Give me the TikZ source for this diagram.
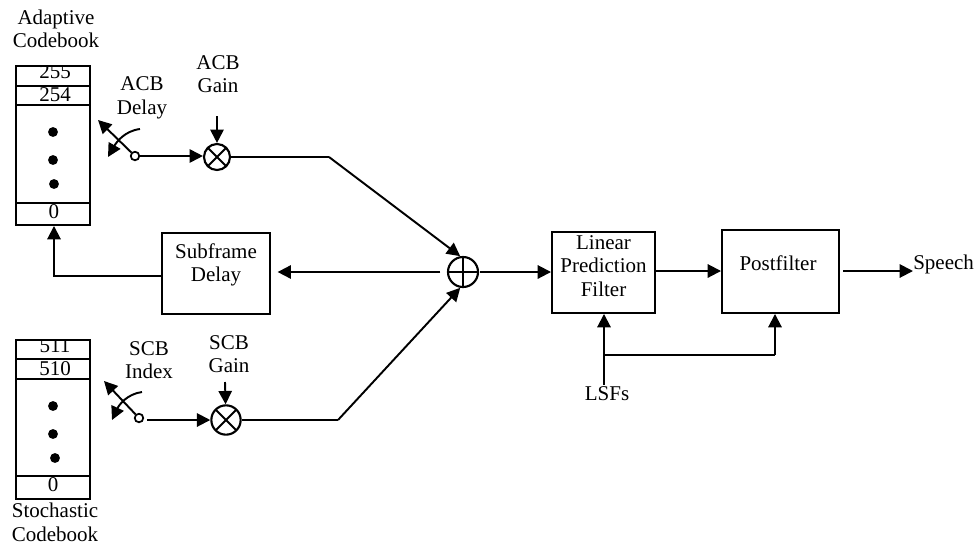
\documentclass[tikz,border=0pt]{standalone}
\usepackage{fontspec}
\setmainfont{Liberation Serif}
\usetikzlibrary{arrows.meta}
\tikzset{
  wire/.style={line width=1.45pt,line join=miter},
  flow/.style={wire,-{Triangle[length=10pt,width=10pt]}},
  boxnode/.style={draw,line width=1.45pt,inner sep=0pt},
  txt/.style={align=center,inner sep=0pt,font=\fontsize{15.75}{17.6}\selectfont},
  num/.style={inner sep=0pt,font=\fontsize{15.75}{17.6}\selectfont},
  dotnode/.style={circle,fill=black,inner sep=0pt,minimum size=7.4pt},
  pivot/.style={circle,draw,fill=white,line width=1.3pt,inner sep=0pt,minimum size=6.4pt},
  mult/.style={circle,draw,line width=1.6pt,inner sep=0pt,path picture={
    \draw[line width=1.45pt] (path picture bounding box.north west)--(path picture bounding box.south east)
      (path picture bounding box.north east)--(path picture bounding box.south west);}},
  adder/.style={circle,draw,line width=1.6pt,inner sep=0pt,minimum size=22.5pt,path picture={
    \draw[line width=1.3pt] (path picture bounding box.north)--(path picture bounding box.south)
      (path picture bounding box.east)--(path picture bounding box.west);}},
}
\begin{document}
\begin{tikzpicture}[x=0.75pt,y=-0.75pt]
\useasboundingbox (0,0) rectangle (976,544);
% adaptive codebook
\begin{scope}
\clip (16,66) rectangle (90,86);
\node[num] (n255) at (55,72) {255};
\end{scope}
\node[boxnode,minimum width=55.5pt,minimum height=119.25pt] (acb) at (53,145.5) {};
\node[num] (n254) at (55,95) {254};
\node[num] (n0a) at (54,212) {0};
\coordinate (a1) at (16,86); \coordinate (a1r) at (90,86);
\coordinate (a2) at (16,105); \coordinate (a2r) at (90,105);
\coordinate (a3) at (16,203); \coordinate (a3r) at (90,203);
\draw[wire] (a1)--(a1r) (a2)--(a2r) (a3)--(a3r);
\node[dotnode] (da1) at (53,132) {};
\node[dotnode] (da2) at (53,160) {};
\node[dotnode] (da3) at (54,184) {};
\node[txt] (acbt) at (56,29) {Adaptive\\Codebook};
% stochastic codebook
\begin{scope}
\clip (16,340) rectangle (90,359);
\node[num] (n511) at (55,346) {511};
\end{scope}
\node[boxnode,minimum width=55.5pt,minimum height=119.25pt] (scb) at (53,419.5) {};
\node[num] (n510) at (55,369) {510};
\node[num] (n0s) at (53,485) {0};
\coordinate (s1) at (16,359); \coordinate (s1r) at (90,359);
\coordinate (s2) at (16,379); \coordinate (s2r) at (90,379);
\coordinate (s3) at (16,476); \coordinate (s3r) at (90,476);
\draw[wire] (s1)--(s1r) (s2)--(s2r) (s3)--(s3r);
\node[dotnode] (ds1) at (53,406) {};
\node[dotnode] (ds2) at (53,434) {};
\node[dotnode] (ds3) at (55,458) {};
\node[txt] (scbt) at (55,522.5) {Stochastic\\Codebook};
% labels
\node[txt] (acbd) at (142,98) {ACB\\Delay};
\node[txt] (acbg) at (218,74) {ACB\\Gain};
\node[txt] (scbi) at (149,360) {SCB\\Index};
\node[txt] (scbg) at (229,354) {SCB\\Gain};
% switches
\node[pivot] (swa) at (135,156) {};
\coordinate (swaT) at (98,120);
\coordinate (swaC) at (140,129);
\coordinate (swaH) at (108,157);
\draw[flow] (swa)--(swaT);
\draw[flow] (swaC) .. controls (124,131) and (116,143) .. (swaH);
\node[pivot] (swb) at (139,418) {};
\coordinate (swbT) at (104,381);
\coordinate (swbC) at (142,392);
\coordinate (swbH) at (112,420);
\draw[flow] (swb)--(swbT);
\draw[flow] (swbC) .. controls (127,394) and (119,405) .. (swbH);
% multipliers and adder
\node[mult,minimum size=19.5pt] (ma) at (217,157) {};
\node[mult,minimum size=22pt] (mb) at (226,420) {};
\node[adder] (sum) at (463,272) {};
\coordinate (ga) at (217,116);
\coordinate (gb) at (225,382);
\draw[flow] (ga)--(ma);
\draw[flow] (gb)--(mb);
\draw[flow] (swa.east)--(swa.east-|ma.west);
\coordinate (swbS) at (147,420);
\draw[flow] (swbS)--(mb.west);
% blocks
\node[boxnode,minimum width=81pt,minimum height=60.75pt] (delay) at (216,273.5) {};
\node[txt] (delayt) at (216,265) {Subframe\\Delay};
\node[boxnode,minimum width=77.25pt,minimum height=60.75pt] (lpf) at (603.5,272.5) {};
\node[txt] (lpft) at (603.5,266) {Linear\\Prediction\\Filter};
\node[boxnode,minimum width=87.75pt,minimum height=62.25pt] (pf) at (780.5,271.5) {};
\node[txt] (pft) at (778,263) {Postfilter};
% connectors
\coordinate (bA) at (329,157);
\coordinate (bB) at (338,420);
\draw[wire] (ma.east)--(bA);
\draw[flow] (bA)--(sum.100);
\draw[wire] (mb.east)--(bB);
\draw[flow] (bB)--(sum.260);
\draw[flow,shorten <=5pt,shorten >=5pt] (sum.west)--(delay.east|-sum.west);
\coordinate (fb) at (54,276);
\draw[flow] (delay.west|-fb)--(fb)--(fb|-acb.south);
\draw[flow,shorten <=1pt] (sum.east)--(lpf.west|-sum.east);
\coordinate (midL) at (lpf.east|-0,271);
\draw[flow] (midL)--(pf.west|-midL);
\node[txt,anchor=west] (speech) at (913,264) {Speech};
\coordinate (spT) at (speech.west|-0,271);
\coordinate (spS) at (843,271);
\draw[flow] (spS)--(spT);
\node[txt] (lsf) at (607,394) {LSFs};
\coordinate (lsfB) at (604,385);
\coordinate (br) at (604,355);
\coordinate (brR) at (775,355);
\draw[flow] (lsfB)--(lsfB|-lpf.south);
\draw[wire] (br)--(brR);
\draw[flow] (brR)--(brR|-pf.south);
\end{tikzpicture}
\end{document}
